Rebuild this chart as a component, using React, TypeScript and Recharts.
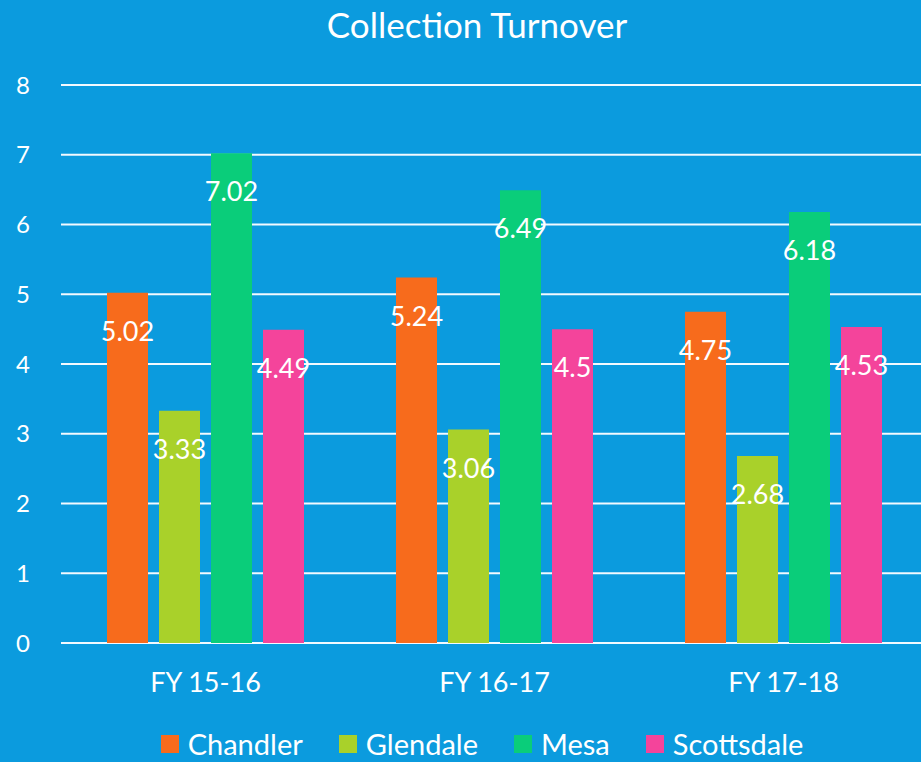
import React from 'react';
import { BarChart, Bar, XAxis, YAxis, CartesianGrid, Legend, LabelList } from 'recharts';

const categories = ['FY 15-16', 'FY 16-17', 'FY 17-18'];
const chandler = [5.02, 5.24, 4.75];
const glendale = [3.33, 3.06, 2.68];
const mesa = [7.02, 6.49, 6.18];
const scottsdale = [4.49, 4.5, 4.53];
const yTicks = [0, 1, 2, 3, 4, 5, 6, 7, 8];

const seriesNames = ['Chandler', 'Glendale', 'Mesa', 'Scottsdale'];
const seriesColors = ['#F76B1C', '#A9D12A', '#0ACD7A', '#F4449B'];

const data = categories.map((c, i) => ({
  name: c,
  Chandler: chandler[i],
  Glendale: glendale[i],
  Mesa: mesa[i],
  Scottsdale: scottsdale[i],
}));

const FONT = 'Lato, "Open Sans", sans-serif';
const BG = '#0B9BDE';

const renderLabel = (props: any) => {
  const { x, y, width, value } = props;
  return (
    <text
      x={Number(x) + Number(width) / 2}
      y={Number(y) + 48}
      textAnchor="middle"
      fill="#FFFFFF"
      fontSize={27}
      fontFamily={FONT}
    >
      {String(value)}
    </text>
  );
};

const LegendContent = () => (
  <div
    style={{
      height: 34,
      boxSizing: 'border-box',
      paddingLeft: 36,
      paddingBottom: 2,
      display: 'flex',
      justifyContent: 'center',
      alignItems: 'center',
      fontFamily: FONT,
      fontSize: 29,
      color: '#FFFFFF',
    }}
  >
    {seriesNames.map((n, i) => (
      <div key={n} style={{ display: 'flex', alignItems: 'center', marginRight: i < seriesNames.length - 1 ? 36 : 0 }}>
        <div style={{ width: 18, height: 18, background: seriesColors[i], marginRight: 9 }} />
        <span style={{ lineHeight: '30px' }}>{n}</span>
      </div>
    ))}
  </div>
);

export default function App() {
  return (
    <div
      style={{
        position: 'absolute',
        left: 0,
        top: 0,
        width: 921,
        height: 762,
        overflow: 'hidden',
        background: BG,
      }}
    >
      <div
        style={{
          position: 'absolute',
          left: 0,
          top: 3,
          width: 954,
          textAlign: 'center',
          fontFamily: FONT,
          fontSize: 35,
          lineHeight: 1.2,
          color: '#FFFFFF',
        }}
      >
        Collection Turnover
      </div>
      <BarChart
        width={928}
        height={762}
        data={data}
        margin={{ top: 85, right: 0, bottom: 0, left: 0 }}
        barSize={41}
        barGap={11}
      >
        <CartesianGrid horizontal vertical={false} stroke="#F2F9FF" strokeWidth={2} />
        <XAxis
          dataKey="name"
          height={85}
          axisLine={false}
          tickLine={false}
          tickSize={0}
          tickMargin={30}
          tick={{ fill: '#FFFFFF', fontSize: 27, fontFamily: FONT }}
        />
        <YAxis
          width={61}
          domain={[0, 8]}
          ticks={yTicks}
          axisLine={false}
          tickLine={false}
          tickSize={0}
          tickMargin={38}
          tick={{ fill: '#FFFFFF', fontSize: 24, fontFamily: FONT, textAnchor: 'middle' }}
        />
        <Legend verticalAlign="bottom" content={LegendContent} wrapperStyle={{ padding: 0, margin: 0 }} />
        {seriesNames.map((n, i) => (
          <Bar key={n} dataKey={n} fill={seriesColors[i]} isAnimationActive={false}>
            <LabelList dataKey={n} content={renderLabel} />
          </Bar>
        ))}
      </BarChart>
    </div>
  );
}
